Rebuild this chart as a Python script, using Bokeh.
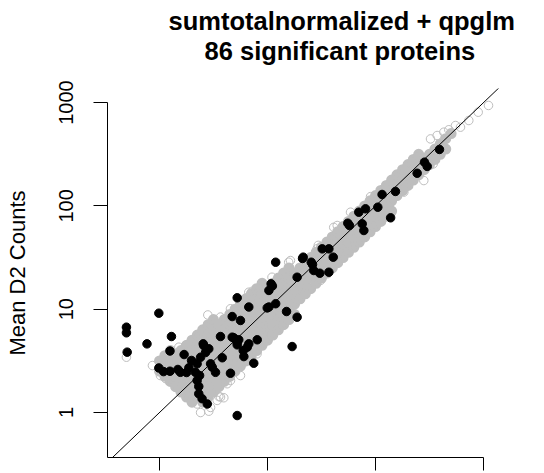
from bokeh.plotting import figure
from bokeh.models import FixedTicker, Title, Range1d, NumeralTickFormatter, CustomJSTickFormatter
from bokeh.embed import file_html
from bokeh.resources import INLINE

# ---- data ----
title_line1 = "sumtotalnormalized + qpglm"
title_line2 = "86 significant proteins"
y_label = "Mean D2 Counts"
tick_values = [1, 10, 100, 1000]
x_limits = (0.330, 1531)
y_limits = (0.367, 1369)
identity_line = [0.1, 10000]

# dense core of non-significant proteins (grey cloud)
core_x = [1.00, 1.00,
          1.12, 1.12, 1.12,
          1.26, 1.26, 1.26, 1.26,
          1.41, 1.41, 1.41, 1.41,
          1.58, 1.58, 1.58, 1.58, 1.58,
          1.78, 1.78, 1.78, 1.78, 1.78, 1.78,
          2.00, 2.00, 2.00, 2.00, 2.00, 2.00, 2.00,
          2.24, 2.24, 2.24, 2.24, 2.24, 2.24, 2.24,
          2.51, 2.51, 2.51, 2.51, 2.51, 2.51, 2.51, 2.51,
          2.82, 2.82, 2.82, 2.82, 2.82, 2.82, 2.82, 2.82,
          3.16, 3.16, 3.16, 3.16, 3.16, 3.16, 3.16, 3.16,
          3.55, 3.55, 3.55, 3.55, 3.55, 3.55, 3.55,
          3.98, 3.98, 3.98, 3.98, 3.98, 3.98, 3.98,
          4.47, 4.47, 4.47, 4.47, 4.47, 4.47, 4.47,
          5.01, 5.01, 5.01, 5.01, 5.01, 5.01, 5.01,
          5.62, 5.62, 5.62, 5.62, 5.62, 5.62, 5.62,
          6.31, 6.31, 6.31, 6.31, 6.31, 6.31, 6.31,
          7.08, 7.08, 7.08, 7.08, 7.08, 7.08, 7.08,
          7.94, 7.94, 7.94, 7.94, 7.94, 7.94, 7.94,
          8.91, 8.91, 8.91, 8.91, 8.91, 8.91, 8.91,
          10.0, 10.0, 10.0, 10.0, 10.0, 10.0,
          11.2, 11.2, 11.2, 11.2, 11.2, 11.2,
          12.6, 12.6, 12.6, 12.6, 12.6, 12.6,
          14.1, 14.1, 14.1, 14.1, 14.1, 14.1,
          15.8, 15.8, 15.8, 15.8, 15.8, 15.8,
          17.8, 17.8, 17.8, 17.8, 17.8,
          20.0, 20.0, 20.0, 20.0,
          22.4, 22.4, 22.4, 22.4,
          25.1, 25.1, 25.1, 25.1,
          28.2, 28.2, 28.2, 28.2,
          31.6, 31.6, 31.6, 31.6,
          35.5, 35.5, 35.5, 35.5,
          39.8, 39.8, 39.8, 39.8,
          44.7, 44.7, 44.7, 44.7,
          50.1, 50.1, 50.1, 50.1,
          56.2, 56.2, 56.2, 56.2,
          63.1, 63.1, 63.1, 63.1,
          70.8, 70.8, 70.8, 70.8,
          79.4, 79.4, 79.4, 79.4,
          89.1, 89.1, 89.1, 89.1,
          100, 100, 100, 100,
          112, 112, 112, 112,
          126, 126, 126, 126,
          141, 141, 141, 141,
          158, 158, 158,
          178, 178, 178,
          200, 200, 200,
          224, 224, 224,
          251, 251, 251,
          282, 282,
          316, 316,
          355, 355,
          398, 398,
          447, 447,
          501]
core_y = [2.51, 3.16,
          2.24, 2.82, 3.55,
          2.00, 2.51, 3.16, 3.98,
          1.78, 2.24, 2.82, 3.55,
          1.58, 2.00, 2.51, 3.16, 3.98,
          1.41, 1.78, 2.24, 2.82, 3.55, 4.47,
          1.26, 1.58, 2.00, 2.51, 3.16, 3.98, 5.01,
          1.41, 1.78, 2.24, 2.82, 3.55, 4.47, 5.62,
          1.26, 1.58, 2.00, 2.51, 3.16, 3.98, 5.01, 6.31,
          1.41, 1.78, 2.24, 2.82, 3.55, 4.47, 5.62, 7.08,
          1.58, 2.00, 2.51, 3.16, 3.98, 5.01, 6.31, 7.94,
          1.78, 2.24, 2.82, 3.55, 4.47, 5.62, 7.08,
          2.00, 2.51, 3.16, 3.98, 5.01, 6.31, 7.94,
          2.24, 2.82, 3.55, 4.47, 5.62, 7.08, 8.91,
          2.51, 3.16, 3.98, 5.01, 6.31, 7.94, 10.0,
          2.82, 3.55, 4.47, 5.62, 7.08, 8.91, 11.2,
          3.16, 3.98, 5.01, 6.31, 7.94, 10.0, 12.6,
          3.55, 4.47, 5.62, 7.08, 8.91, 11.2, 14.1,
          3.98, 5.01, 6.31, 7.94, 10.0, 12.6, 15.8,
          4.47, 5.62, 7.08, 8.91, 11.2, 14.1, 17.8,
          5.01, 6.31, 7.94, 10.0, 12.6, 15.8,
          5.62, 7.08, 8.91, 11.2, 14.1, 17.8,
          6.31, 7.94, 10.0, 12.6, 15.8, 20.0,
          7.08, 8.91, 11.2, 14.1, 17.8, 22.4,
          7.94, 10.0, 12.6, 15.8, 20.0, 25.1,
          8.91, 11.2, 14.1, 17.8, 22.4,
          12.6, 15.8, 20.0, 25.1,
          14.1, 17.8, 22.4, 28.2,
          15.8, 20.0, 25.1, 31.6,
          17.8, 22.4, 28.2, 35.5,
          20.0, 25.1, 31.6, 39.8,
          22.4, 28.2, 35.5, 44.7,
          25.1, 31.6, 39.8, 50.1,
          28.2, 35.5, 44.7, 56.2,
          31.6, 39.8, 50.1, 63.1,
          35.5, 44.7, 56.2, 70.8,
          39.8, 50.1, 63.1, 79.4,
          44.7, 56.2, 70.8, 89.1,
          50.1, 63.1, 79.4, 100,
          56.2, 70.8, 89.1, 112,
          63.1, 79.4, 100, 126,
          70.8, 89.1, 112, 141,
          79.4, 100, 126, 158,
          89.1, 112, 141, 178,
          126, 158, 200,
          141, 178, 224,
          158, 200, 251,
          178, 224, 282,
          200, 251, 316,
          224, 282,
          251, 316,
          282, 355,
          316, 398,
          355, 447,
          501]

# sparser outer ring of non-significant proteins (open grey circles)
edge_x = [0.494, 0.86, 1.02, 1.14, 1.51, 1.74, 2.31, 2.80, 3.67, 4.54, 6.71, 7.21,
          11.0, 15.7, 16.3, 28.8, 29.5, 44.2, 41.0, 58.7, 90.0, 128, 183, 227, 280,
          323, 372, 429, 477, 550, 731, 893, 1112,
          612, 429, 342, 280, 183, 138, 104, 63.0, 38.3, 31.0, 20.2, 17.5, 11.4,
          10.7, 8.00, 5.62, 4.54, 4.23, 3.94, 3.67, 3.54, 3.42, 3.30, 2.97, 2.86,
          2.40, 2.23]
edge_y = [3.43, 2.85, 2.28, 2.13, 4.29, 4.45, 5.36, 8.80, 8.40, 10.1, 14.6, 14.9,
          20.4, 28.5, 29.6, 38.5, 41.5, 64.6, 62.0, 86.9, 123, 154, 217, 255, 292,
          445, 480, 517, 546, 600, 671, 807, 938,
          578, 370, 255, 176, 136, 84.0, 67.1, 49.8, 26.5, 19.0, 13.1, 14.1, 7.20,
          5.80, 3.70, 2.28, 2.04, 1.90, 1.39, 1.41, 1.43, 1.31, 1.63, 1.12, 1.03,
          1.00, 1.21]

# 86 significant proteins (black dots)
sig_x = [0.494, 0.494, 0.502, 0.766, 0.986, 1.29, 1.25, 1.69, 0.986, 1.09,
         1.25, 1.48, 1.87, 2.15, 2.23, 2.31, 2.48, 2.77, 5.24, 2.54,
         2.86, 2.40, 2.97, 3.30, 3.67, 3.81, 4.54, 4.71, 5.62, 4.71,
         5.42, 5.24, 6.04, 7.46, 6.71, 8.03, 6.71, 5.24, 10.3, 11.9,
         15.0, 18.8, 16.9, 10.3, 10.8, 11.9, 18.8, 21.4, 25.4, 26.8,
         30.5, 37.0, 32.1, 37.0, 40.6, 55.4, 70.0, 80.8, 75.3, 78.0,
         105, 115, 138, 153, 243, 284, 301, 391, 2.57, 2.23,
         2.31, 1.56, 1.98, 2.67, 3.08, 4.88, 6.49, 5.96, 1.78, 2.35,
         5.24, 9.94, 11.1, 26.1, 57.4, 21.1]
sig_y = [6.70, 5.91, 3.84, 4.62, 9.15, 5.44, 3.94, 3.64, 2.70, 2.49,
         2.51, 2.61, 2.71, 2.45, 2.04, 1.52, 1.36, 1.21, 0.935, 4.62,
         4.14, 3.43, 2.96, 2.45, 5.44, 3.39, 2.40, 8.49, 7.78, 5.36,
         5.06, 4.52, 3.48, 3.00, 4.62, 5.06, 10.5, 12.9, 10.5, 11.3,
         9.50, 8.37, 4.35, 15.2, 17.6, 28.5, 20.4, 31.9, 28.5, 23.7,
         22.3, 22.8, 38.4, 38.4, 31.9, 68.0, 86.9, 93.7, 67.1, 57.8,
         97.1, 129, 76.7, 138, 207, 265, 241, 352, 4.45, 2.96,
         1.79, 2.45, 3.19, 3.81, 2.75, 5.28, 4.29, 3.98, 2.44, 2.28,
         4.80, 10.3, 16.8, 27.1, 64.6, 31.0]

FONT = "Liberation Sans"
GREY = "#bebebe"

p = figure(width=544, height=473, x_axis_type="log", y_axis_type="log",
           x_range=Range1d(*x_limits), y_range=Range1d(*y_limits),
           output_backend="svg", toolbar_location=None, title=None,
           min_border_left=107, min_border_right=41,
           min_border_top=88, min_border_bottom=16)
p.grid.visible = False
p.outline_line_color = None
p.background_fill_color = "white"
p.border_fill_color = "white"

# grey cloud
p.scatter(core_x, core_y, size=8, fill_color=GREY, line_color=GREY, line_width=3)
p.scatter(edge_x, edge_y, size=8.5, fill_color=None, line_color=GREY, line_width=1)
# identity line
p.line(identity_line, identity_line, line_color="black", line_width=1)
# significant
p.scatter(sig_x, sig_y, size=8.5, fill_color="black", line_color="black", line_width=1)

for ax, lim in ((p.xaxis[0], x_limits), (p.yaxis[0], y_limits)):
    ax.ticker = FixedTicker(ticks=tick_values, minor_ticks=[])
    ax.bounds = (lim[0], 1000)
    ax.major_tick_in = 0
    ax.minor_tick_in = 0
    ax.minor_tick_out = 0
    ax.axis_line_color = "black"
    ax.major_tick_line_color = "black"

p.xaxis.major_tick_out = 13
p.xaxis.formatter = CustomJSTickFormatter(code="return ''")
p.xaxis.major_label_standoff = 0

p.yaxis.formatter = NumeralTickFormatter(format="0")
p.yaxis.major_tick_out = 14
p.yaxis.major_label_orientation = "vertical"
p.yaxis.major_label_text_font = FONT
p.yaxis.major_label_text_font_size = "20px"
p.yaxis.major_label_text_color = "black"
p.yaxis.major_label_standoff = 20
p.yaxis.axis_label = y_label
p.yaxis.axis_label_text_font = FONT
p.yaxis.axis_label_text_font_size = "22px"
p.yaxis.axis_label_text_font_style = "normal"
p.yaxis.axis_label_text_color = "black"
p.yaxis.axis_label_standoff = 27

# title: spacer panel next to the frame, then line 2, then line 1
p.add_layout(Title(text=" ", text_font_size="1px", standoff=21), "above")
p.add_layout(Title(text=title_line2, align="left", offset=97, standoff=0,
                   text_font=FONT, text_font_size="25.5px", text_font_style="bold",
                   text_color="black"), "above")
p.add_layout(Title(text=title_line1, align="left", offset=61, standoff=0,
                   text_font=FONT, text_font_size="25.5px", text_font_style="bold",
                   text_color="black"), "above")

open("out.html", "w").write(file_html(p, INLINE))
